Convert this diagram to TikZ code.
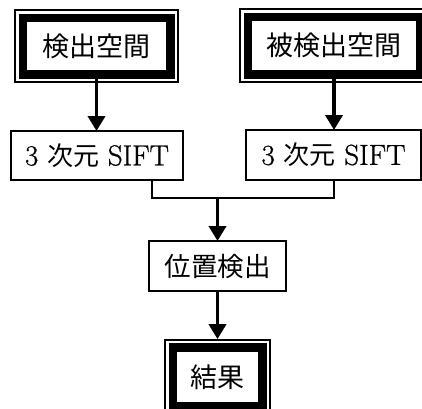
\documentclass[tikz,border=0pt]{standalone}
\usepackage{fontspec}
\newfontfamily\jp{Noto Sans CJK JP}
\newfontfamily\latn{Latin Modern Roman}[FakeBold=0.8]
\usetikzlibrary{arrows.meta}
\tikzset{
  every node/.style={outer sep=0pt, inner sep=0pt},
  heavybox/.style={draw=black, line width=8.5pt, fill=white, font=\jp\fontsize{27}{30}\selectfont},
  plainbox/.style={draw=black, line width=1.4pt, fill=white, font=\latn\fontsize{29}{32}\selectfont},
  rimline/.style={draw=black, line width=1.4pt},
  arr/.style={line width=3.8pt, -{Triangle[width=17pt,length=15pt]}},
  conn/.style={line width=2pt}
}
\begin{document}
\begin{tikzpicture}[x=1pt,y=-1pt]
\useasboundingbox (0,0) rectangle (422,408);
\clip (0,0) rectangle (422,408);
% heavy boxes
\node[heavybox, minimum width=147.5pt, minimum height=56.5pt] (b1) at (96.5,46) {検出空間};
\node[heavybox, minimum width=172.5pt, minimum height=57.5pt] (b2) at (334,45.5) {被検出空間};
\node[heavybox, minimum width=89.5pt, minimum height=58.75pt] (res) at (217.5,377) {結果};
\foreach \n in {b1,b2,res}{
  \draw[rimline] ([xshift=-7.75pt,yshift=7.75pt]\n.north west) rectangle ([xshift=7.75pt,yshift=-7.75pt]\n.south east);
}
% plain boxes
\node[plainbox, minimum width=172pt, minimum height=49pt] (s1) at (97,155.5) {3 {\jp\fontsize{26}{30}\selectfont 次元} SIFT};
\node[plainbox, minimum width=175pt, minimum height=50pt] (s2) at (333.5,155) {3 {\jp\fontsize{26}{30}\selectfont 次元} SIFT};
\node[plainbox, font=\jp\fontsize{26.5}{30}\selectfont, minimum width=137pt, minimum height=50pt] (pos) at (217.5,266) {位置検出};
\coordinate (m) at (217.5,198);
% connectors
\draw[arr] (b1.south) -- (b1.south |- s1.north);
\draw[arr] (b2.south) -- (b2.south |- s2.north);
\draw[conn] ([xshift=55pt]s1.south) |- (m);
\draw[conn] (s2.south) |- (m);
\draw[arr] (m) -- (pos.north);
\draw[arr] (pos.south) -- ([yshift=8.5pt]res.north);
\end{tikzpicture}
\end{document}
